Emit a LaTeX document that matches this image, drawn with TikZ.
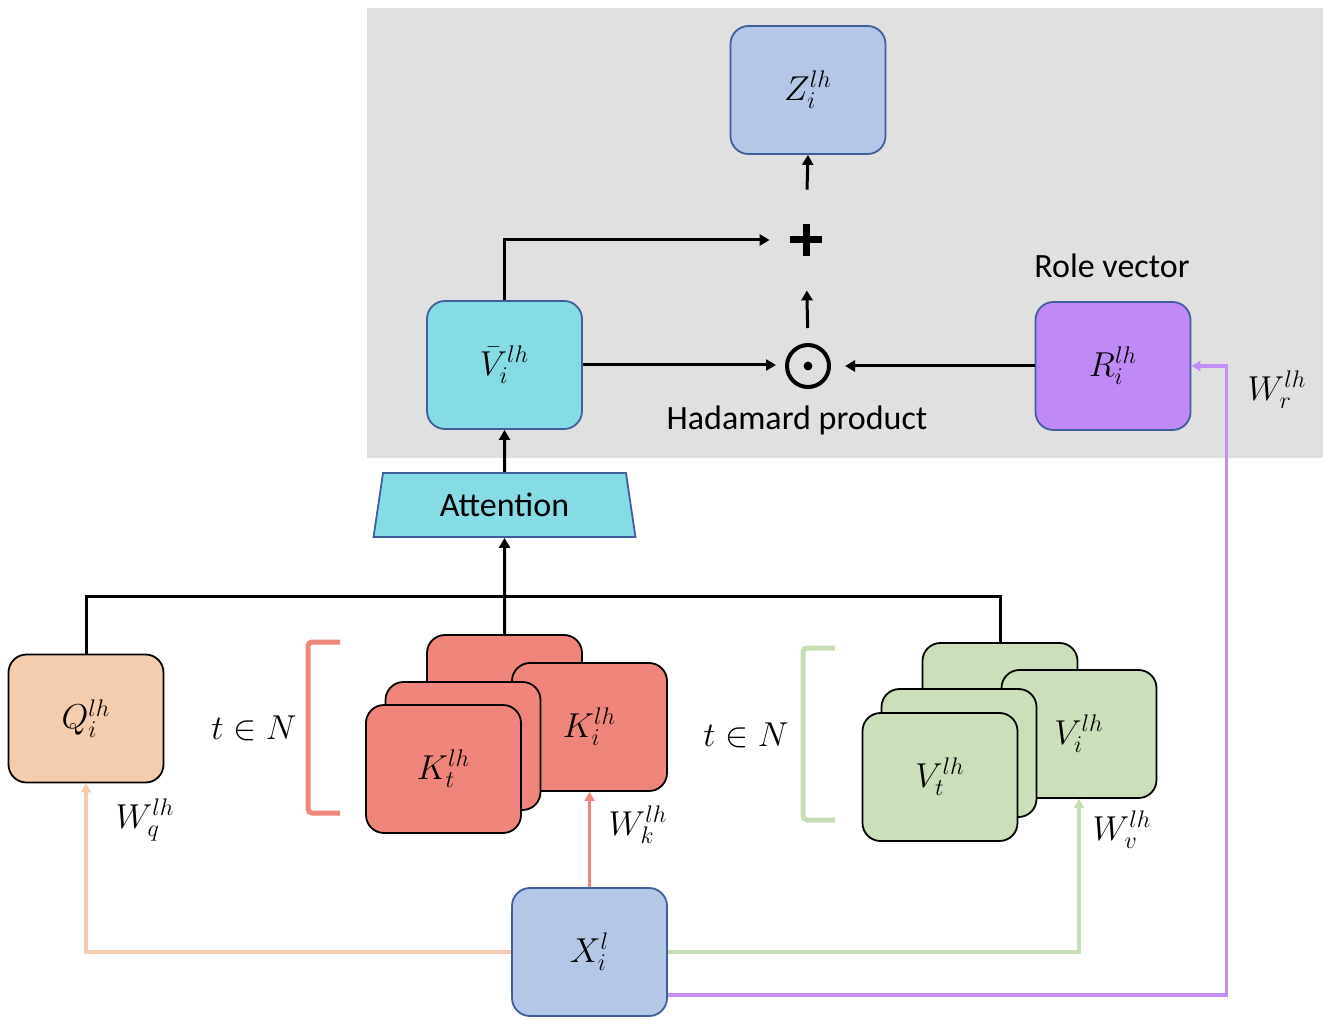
\documentclass[tikz,border=0pt]{standalone}
\usepackage{fontspec}
\setmainfont{Carlito}
\usetikzlibrary{arrows.meta,shapes.geometric}
\definecolor{bgG}{HTML}{E0E0E0}
\definecolor{zfill}{HTML}{B4C7E7}
\definecolor{bdr}{HTML}{3F5E9C}
\definecolor{cyanF}{HTML}{86DCE4}
\definecolor{purF}{HTML}{BF8AF6}
\definecolor{peachF}{HTML}{F4CCAE}
\definecolor{salF}{HTML}{F0857C}
\definecolor{grnF}{HTML}{CCDFBB}
\definecolor{grnL}{HTML}{C6DEB4}
\definecolor{purL}{HTML}{C28EF8}
\begin{document}
\begin{tikzpicture}[x=0.5pt,y=-0.5pt,
  font=\fontsize{17}{20}\selectfont,
  box/.style={rounded corners=9pt, minimum width=77.5pt, minimum height=64pt, line width=0.9pt, inner sep=0pt, draw},
  bluebox/.style={box, draw=bdr},
  blkbox/.style={box, draw=black},
  conn/.style={line width=1.5pt, -{Triangle[length=5pt,width=5.5pt]}},
  wire/.style={line width=1.6pt, -{Triangle[length=4.5pt,width=5pt]}},
  brk/.style={line width=2.5pt, rounded corners=2pt},
  lbl/.style={inner sep=0pt}
]
\useasboundingbox (0,0) rectangle (1332,1026);
\fill[bgG] (367,8) rectangle (1323,458);

% top part
\node[bluebox, fill=zfill] (Z) at (808,90) {$Z_i^{lh}$};
\node[inner sep=0pt, minimum size=16pt] (plus) at (806,240) {};
\draw[line width=3.5pt] (plus.north) -- (plus.south) (plus.west) -- (plus.east);
\node[circle, draw, line width=2pt, minimum size=21pt, inner sep=0pt] (odot) at (808,366) {};
\fill (odot.center) circle (2.2pt);
\node[bluebox, fill=cyanF] (Vb) at (504.5,365) {$\bar{V}_i^{lh}$};
\node[bluebox, fill=purF] (R) at (1113,366) {$R_i^{lh}$};
\node[lbl] (role) at (1112,266) {Role vector};
\node[lbl] (had) at (797,420) {Hadamard product};
\node[lbl] (Wr) at (1277,390) {$W_r^{lh}$};
\node[trapezium, trapezium stretches=true, trapezium left angle=78, trapezium right angle=78,
      minimum width=131.5pt, minimum height=32pt, draw=bdr, fill=cyanF, line width=0.9pt, inner sep=0pt]
      (att) at (504.5,505) {Attention};

% bottom part
\node[blkbox, fill=peachF] (Q) at (86,718.5) {$Q_i^{lh}$};
\node[blkbox, fill=salF] (Kb) at (504.5,699) {};
\node[blkbox, fill=salF] (Ki) at (589.5,727) {$K_i^{lh}$};
\node[blkbox, fill=salF] (Km) at (463,746) {};
\node[blkbox, fill=salF] (Kt) at (443.5,769) {$K_t^{lh}$};
\node[blkbox, fill=grnF] (Vbk) at (1000,707) {};
\node[blkbox, fill=grnF] (Vi) at (1079,734) {$V_i^{lh}$};
\node[blkbox, fill=grnF] (Vm) at (959,753) {};
\node[blkbox, fill=grnF] (Vt) at (940,777) {$V_t^{lh}$};
\node[bluebox, fill=zfill] (X) at (589.5,952) {$X_i^l$};

\node[lbl] (tk) at (254,728) {$t\in N$};
\node[lbl] (tv) at (746,735) {$t\in N$};
\node[lbl] (Wq) at (145,820) {$W_q^{lh}$};
\node[lbl] (Wk) at (638,825) {$W_k^{lh}$};
\node[lbl] (Wv) at (1122,830) {$W_v^{lh}$};

\draw[brk, salF] (340,642) -- (308,642) -- (308,813) -- (340,813);
\draw[brk, grnL] (835,648) -- (803,648) -- (803,820) -- (835,820);

% connectors
\draw[conn, shorten <=17pt] (plus.north) -- (Z.south);
\draw[conn, shorten <=7.5pt, shorten >=17pt] (odot.north) -- (plus.south);
\draw[conn, shorten >=10pt] (Vb.north) |- (plus.west);
\draw[conn, shorten >=4.5pt] (Vb.east) -- (Vb.east -| odot.west);
\draw[conn, shorten >=7pt] (R.west) -- (odot.east);
\draw[conn] (att.north) -- (Vb.south);
\coordinate (bus) at (504.5,596);
\draw[line width=1.5pt] (Q.north) |- (bus) -| (Vbk.north);
\draw[conn] (Kb.north) -- (att.south);

\draw[wire, peachF] (X.west) -| (Q.south);
\draw[wire, salF] (X.north) -- (Ki.south);
\draw[wire, grnL] (X.east) -| (Vi.south);
\draw[wire, purL] ([yshift=-21.5pt]X.east) -| ([xshift=17.5pt]R.east) -- (R.east);
\end{tikzpicture}
\end{document}
